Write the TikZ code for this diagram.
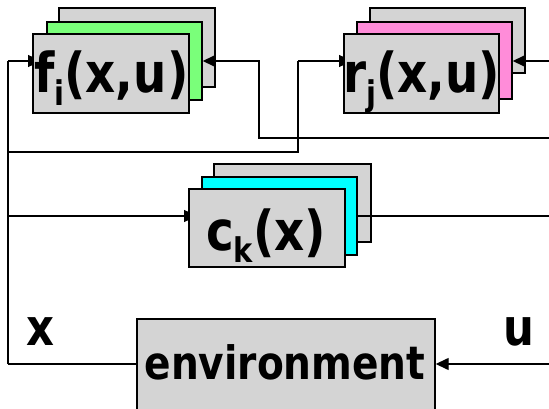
\documentclass[tikz,border=0pt]{standalone}
\usepackage{fontspec}
\usetikzlibrary{arrows.meta}
\newfontfamily\lblfont{DejaVu Sans}[FakeStretch=0.85]
\definecolor{boxgray}{HTML}{D4D4D4}
\definecolor{fgreen}{HTML}{7AFF7A}
\definecolor{rpink}{HTML}{FF8CD9}
\definecolor{ccyan}{HTML}{00FFFF}
\newcommand{\lowsub}[1]{\raisebox{-0.22em}{\fontsize{34}{34}\selectfont #1}}
\tikzset{
  card/.style={draw=black, line width=1.4pt, fill=boxgray, inner sep=0pt, minimum width=0pt, minimum height=0pt},
  wire/.style={line width=1.4pt, draw=black},
  feed/.style={wire, -{Triangle[length=13pt,width=12pt]}},
  lbl/.style={inner sep=0pt, font=\lblfont\bfseries\fontsize{55}{55}\selectfont},
  sig/.style={inner sep=0pt, font=\lblfont\bfseries\fontsize{51}{51}\selectfont},
}
\begin{document}
\begin{tikzpicture}[x=1pt,y=-1pt]
\useasboundingbox (0,0) rectangle (549,409);
\clip (0,0) rectangle (549,409);
% free ends on the right border
\coordinate (fbackR) at (549,138);
\coordinate (rin) at (549,61);
\coordinate (cout) at (549,216);
\coordinate (uin) at (549,364);
% bus corners
\coordinate (busA) at (8,364);
\coordinate (busB) at (8,61);
\coordinate (busC) at (8,152);
\coordinate (busD) at (8,216);
\coordinate (xA) at (259,138);
\coordinate (xB) at (259,61);
\coordinate (yA) at (298,152);
\coordinate (yB) at (298,61);
\coordinate (fin) at (41,61);
\coordinate (rinL) at (352,61);
\coordinate (cin) at (197,216);

% left-hand inputs, partly under the front cards
\draw[wire] (busA) -- (busB);
\draw[feed] (busB) -- (fin);
\draw[wire] (busC) -- (yA) -- (yB);
\draw[feed] (yB) -- (rinL);
\draw[feed] (busD) -- (cin);

% f stack
\node[card, minimum width=156pt, minimum height=79pt] (fback) at (137,47.5) {};
\node[card, fill=fgreen, minimum width=155pt, minimum height=78pt] (fmid) at (124.5,61) {};
\node[card, minimum width=156pt, minimum height=79pt] (ffront) at (111,73.5) {};
\node[lbl, anchor=base west] (ftext) at (34,93) {f\lowsub{i}(x,u)};

% r stack
\node[card, minimum width=155pt, minimum height=65pt] (rback) at (447.5,40.5) {};
\node[card, fill=rpink, minimum width=155pt, minimum height=77pt] (rmid) at (434.5,60.5) {};
\node[card, minimum width=155pt, minimum height=79pt] (rfront) at (421.5,73.5) {};
\node[lbl, anchor=base west] (rtext) at (343,93) {r\lowsub{j}(x,u)};

% c stack
\node[card, minimum width=157pt, minimum height=78pt] (cback) at (292.5,203) {};
\node[card, fill=ccyan, minimum width=155pt, minimum height=78pt] (cmid) at (279.5,216) {};
\node[card, minimum width=156pt, minimum height=78pt] (cfront) at (267,228) {};
\node[lbl, anchor=base west] (ctext) at (206,250) {c\lowsub{k}(x)};

% environment
\node[card, minimum width=298pt, minimum height=110pt] (env) at (286,374) {};
\node[inner sep=0pt, anchor=base, font=\lblfont\bfseries\fontsize{46}{46}\selectfont] (envtext) at (285,379) {environment};

% right-hand connectors, drawn over the back cards
\draw[wire] (busA -| env.west) -- (busA);
\draw[feed] (fbackR) -- (xA) -- (xB) -- (fmid.east);
\draw[feed] (rin) -- (rin -| rmid.east);
\draw[wire] (cmid.east) -- (cout);
\draw[feed] (uin) -- (uin -| env.east);

% signal names
\node[sig, anchor=base] (xlbl) at (40,345) {x};
\node[sig, anchor=base] (ulbl) at (519,345) {u};
\end{tikzpicture}
\end{document}
